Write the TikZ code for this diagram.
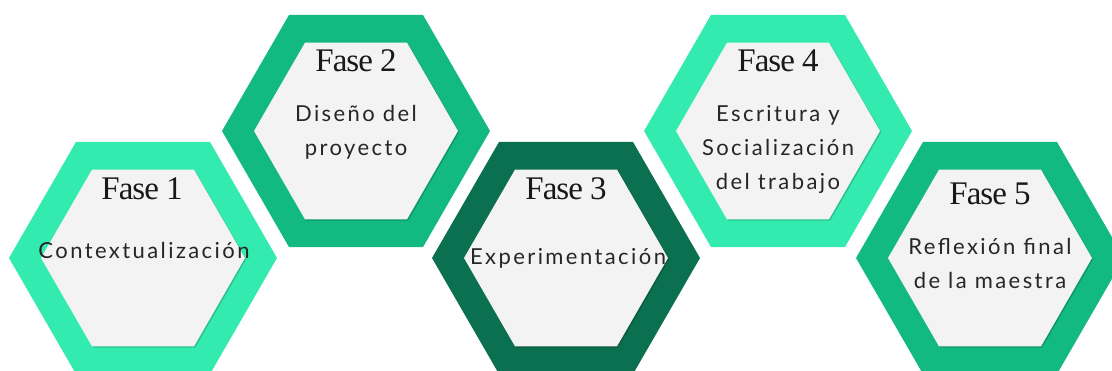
\documentclass[tikz,border=0pt]{standalone}
\usepackage{fontspec}
\newfontfamily\bodyfont{Lato}[LetterSpace=11]
\newfontfamily\titlefont{Liberation Serif}[LetterSpace=-3]
\usetikzlibrary{shapes.geometric,shadows}
\definecolor{mint}{HTML}{34EBAF}
\definecolor{jade}{HTML}{12B981}
\definecolor{pine}{HTML}{0B704F}
\definecolor{paper}{HTML}{F3F3F3}
\tikzset{
  hexouter/.style={regular polygon, regular polygon sides=6, minimum size=268pt, inner sep=0pt, outer sep=0pt},
  hexinner/.style={regular polygon, regular polygon sides=6, minimum size=204pt, inner sep=0pt, outer sep=0pt, fill=paper,
    drop shadow={shadow xshift=1.2pt, shadow yshift=-1.2pt, opacity=0.18, fill=black}},
  fasetitle/.style={font=\titlefont\fontsize{33}{33}\selectfont, text=black!90, anchor=base, inner sep=0pt},
  fasetext/.style={font=\bodyfont\fontsize{22}{34}\selectfont, align=center, text=black!85, anchor=base, inner sep=0pt},
}
\begin{document}
\begin{tikzpicture}[x=1pt,y=-1pt]
\clip (0,0) rectangle (1112,371);
\useasboundingbox (0,0) rectangle (1112,371);

% Hexagons
\node[hexouter, fill=mint] (h1) at (143,258) {};
\node[hexouter, fill=jade] (h2) at (356,131) {};
\node[hexouter, fill=pine] (h3) at (566,258) {};
\node[hexouter, fill=mint] (h4) at (778,131) {};
\node[hexouter, fill=jade] (h5) at (990,258) {};
\node[hexinner] (p1) at (h1) {};
\node[hexinner] (p2) at (h2) {};
\node[hexinner] (p3) at (h3) {};
\node[hexinner] (p4) at (h4) {};
\node[hexinner] (p5) at (h5) {};

% Titles
\node[fasetitle] (t1) at (142,200) {Fase 1};
\node[fasetitle] (t2) at (356,72) {Fase 2};
\node[fasetitle] (t3) at (566,200) {Fase 3};
\node[fasetitle] (t4) at (778,72) {Fase 4};
\node[fasetitle] (t5) at (990,205) {Fase 5};

% Texts (base = last line)
\node[fasetext] (d1) at (144,259) {Contextualización};
\node[fasetext] (d2) at (356,156) {Diseño del\\proyecto};
\node[fasetext] (d3) at (568,265) {Experimentación};
\node[fasetext] (d4) at (778,190) {Escritura y\\Socialización\\del trabajo};
\node[fasetext] (d5) at (990,289) {Reflexión final\\de la maestra};
\end{tikzpicture}
\end{document}
